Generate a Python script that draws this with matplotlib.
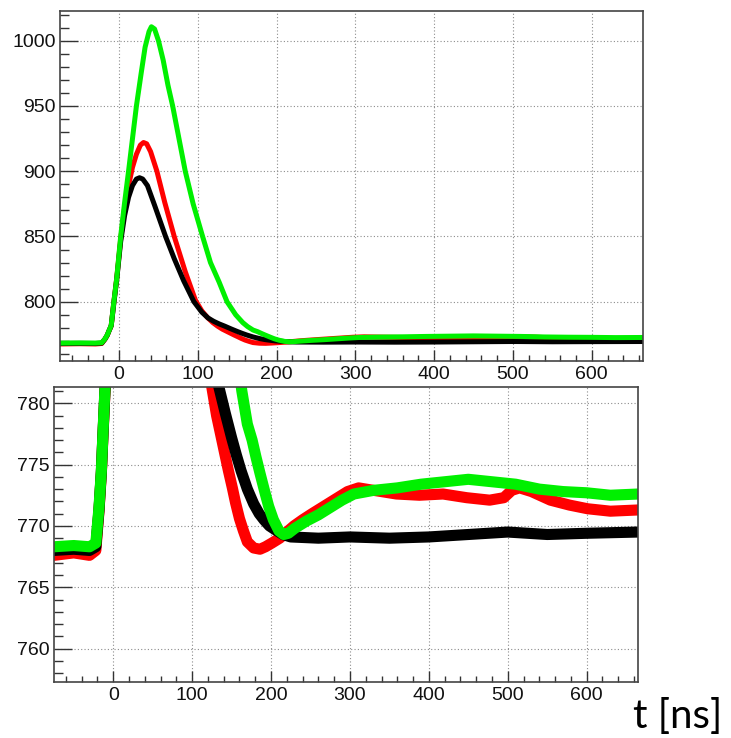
import matplotlib
matplotlib.use("Agg")
import matplotlib.pyplot as plt
from matplotlib.ticker import MultipleLocator

# values (t in ns, amplitude in ADC counts)
green_t = [-75, -50, -30, -22, -18, -15, -13, -10, -7, -3, 2, 7, 12, 17, 22, 28, 33, 38, 41, 45,
           50, 56, 62, 68, 76, 84, 94, 106, 116, 127, 137, 148, 157, 163, 170, 176, 181, 186,
           192, 197, 203, 210, 216, 222, 230, 245, 260, 275, 290, 305, 330, 360, 390, 420, 450,
           480, 510, 540, 570, 600, 630, 665]
green_y = [768.3, 768.4, 768.3, 768.6, 771.5, 774.5, 777.5, 781.8, 798, 818, 850, 876, 900, 925,
           950, 975, 995, 1007, 1010.7, 1009, 1000, 985, 966, 950, 925, 900, 875, 850, 830, 815,
           800, 790, 784, 781, 778.3, 777, 775.6, 774.3, 772.8, 771.6, 770.5, 769.6, 769.3,
           769.4, 769.8, 770.4, 770.9, 771.5, 772.1, 772.6, 772.9, 773.1, 773.4, 773.6, 773.8,
           773.6, 773.4, 773.0, 772.8, 772.7, 772.5, 772.6]

red_t = [-75, -50, -30, -22, -18, -15, -13, -10, -7, -3, 2, 7, 12, 17, 22, 27, 31, 35, 40, 48,
         58, 70, 84, 97, 105, 112, 119, 125, 131, 137, 142, 146, 151, 155, 160, 165, 170, 178,
         186, 193, 201, 211, 220, 229, 240, 252, 267, 282, 297, 311, 330, 359, 388, 418, 448,
         477, 495, 505, 515, 530, 554, 578, 601, 630, 665]
red_y = [767.6, 767.8, 767.6, 768.0, 771.2, 774.3, 777.3, 781.5, 798, 818, 848, 872, 889, 903,
         913, 920, 922, 921, 915, 900, 876, 850, 823, 801, 793, 788, 784, 781.3, 779, 777.2,
         775.7, 774.5, 773.1, 771.9, 770.6, 769.6, 768.7, 768.2, 768.1, 768.3, 768.6, 769.0,
         769.5, 770.0, 770.5, 771.0, 771.6, 772.2, 772.8, 773.1, 772.9, 772.6, 772.5, 772.6,
         772.3, 772.1, 772.3, 772.9, 773.1, 772.8, 772.1, 771.7, 771.4, 771.2, 771.3]

black_t = [-75, -50, -30, -22, -18, -15, -13, -10, -7, -3, 2, 7, 12, 17, 22, 26, 30, 36, 45, 52,
           59, 70, 82, 95, 105, 113, 120, 127, 134, 142, 150, 156, 162, 170, 178, 185, 191, 198,
           205, 215, 225, 260, 300, 350, 400, 450, 500, 550, 600, 665]
black_y = [768.0, 768.1, 768.0, 768.3, 771.3, 774.4, 777.4, 781.6, 797, 817, 846, 866, 880, 889,
           894, 895, 894, 889, 874, 862, 850, 833, 816, 800, 792, 787.5, 785, 783, 781.3, 779.2,
           777.2, 775.8, 774.5, 773.0, 771.8, 771.0, 770.5, 770.0, 769.7, 769.3, 769.1, 769.0,
           769.1, 769.0, 769.1, 769.3, 769.5, 769.3, 769.4, 769.5]

series = [(red_t, red_y, "#ff0000"), (black_t, black_y, "#000000"), (green_t, green_y, "#00f000")]

plt.rcParams["font.family"] = ["Liberation Sans", "DejaVu Sans"]

fig = plt.figure(figsize=(7.31, 7.38), dpi=100)
ax_top = fig.add_axes([60 / 731, 1 - 360.7 / 738, 583 / 731, 350 / 738])
ax_bot = fig.add_axes([54 / 731, 1 - 681.7 / 738, 584 / 731, 294.4 / 738])


def style(ax, ylo, yhi, ymaj, ymin, size):
    ax.set_xlim(-75, 665)
    ax.set_ylim(ylo, yhi)
    ax.xaxis.set_major_locator(MultipleLocator(100))
    ax.xaxis.set_minor_locator(MultipleLocator(20))
    ax.yaxis.set_major_locator(MultipleLocator(ymaj))
    ax.yaxis.set_minor_locator(MultipleLocator(ymin))
    ax.tick_params(which="both", direction="in", top=False, right=False,
                   labelsize=size, color="#333333", labelcolor="#111111", width=1.0)
    ax.tick_params(axis="y", which="major", length=13, pad=3)
    ax.tick_params(axis="y", which="minor", length=6.5)
    ax.tick_params(axis="x", which="major", length=8, pad=4)
    ax.tick_params(axis="x", which="minor", length=4)
    ax.grid(True, which="major", color="#8c8c8c", linestyle=(0, (1, 2)), linewidth=0.8)
    for s in ax.spines.values():
        s.set_color("#444444")
        s.set_linewidth(1.2)


style(ax_top, 754.8, 1023, 50, 10, 14)
style(ax_bot, 757.3, 781.3, 5, 1, 14)

for t, y, c in series:
    ax_top.plot(t, y, color=c, lw=3.6, solid_joinstyle="round", solid_capstyle="round")
    ax_bot.plot(t, y, color=c, lw=8, solid_joinstyle="round", solid_capstyle="round")

fig.text(633 / 731, 1 - 728 / 738, "t [ns]", fontsize=29, family=["Lato", "DejaVu Sans"],
         ha="left", va="baseline")

fig.savefig("out.png", dpi=100)
